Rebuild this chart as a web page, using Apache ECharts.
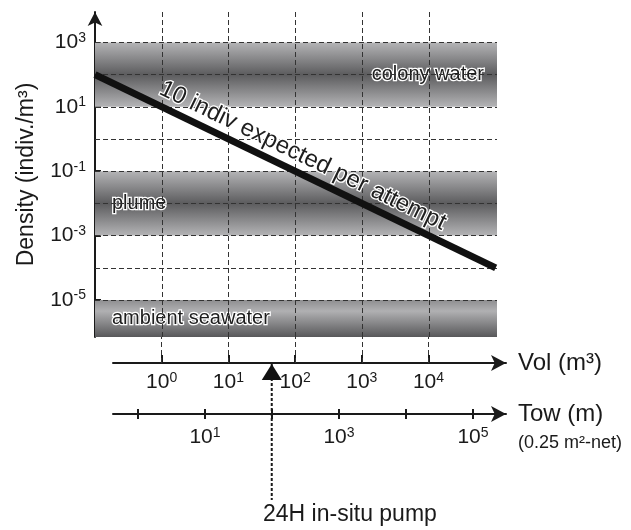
<!DOCTYPE html>
<html>
<head>
<meta charset="utf-8">
<script src="https://cdn.jsdelivr.net/npm/echarts@6/dist/echarts.min.js"></script>
<style>
html, body { margin: 0; padding: 0; background: #fff; }
#chart { width: 631px; height: 530px; }
</style>
</head>
<body>
<div id="chart"></div>
<script>
// all values are log10 exponents
var volTicks = [0, 1, 2, 3, 4];
var densityTicks = [3, 1, -1, -3, -5];
var densityGrid = [3, 2, 1, 0, -1, -2, -3, -4, -5];
var towTicks = [0, 1, 2, 3, 4, 5];
var towLabels = [1, 3, 5];
var expectedLine = [[-1, 2], [5, -4]]; // 10 indiv expected per attempt
var bandNames = ['colony water', 'plume', 'ambient seawater'];
var bandRanges = [[3, 1], [-1, -3], [-5, -6.15]];
var pumpVol = 1.65;

var FONT = '"Liberation Sans", Arial, Helvetica, sans-serif';
var INK = '#1a1a1a';

function pow10(v) {
	return '{b|10}{s|' + v + '}';
}
function powRich(size, sup) {
	return {
		b: { fontSize: size, lineHeight: size + 2, color: INK, fontFamily: FONT },
		s: { fontSize: sup, lineHeight: sup, verticalAlign: 'top', color: INK, fontFamily: FONT }
	};
}
function grad(stops) {
	return new echarts.graphic.LinearGradient(0, 0, 0, 1, stops);
}
var midDark = [
	{ offset: 0, color: '#b4b4b6' },
	{ offset: 0.5, color: '#5c5c5e' },
	{ offset: 1, color: '#b4b4b6' }
];
var ambientFill = [
	{ offset: 0, color: '#8e8e90' },
	{ offset: 0.3, color: '#b0b0b2' },
	{ offset: 1, color: '#58585a' }
];
var bandFills = [midDark, midDark, ambientFill];
var bandLabelPos = ['insideRight', 'insideLeft', 'insideLeft'];
var bandLabelDist = [13, 17, 17];

// texte avec contour blanc
var outlined = {
	color: '#1e1e1e',
	fontFamily: FONT,
	textBorderColor: '#fff',
	textBorderWidth: 2.5
};

var bands = [];
for (var i = 0; i < bandNames.length; i++) {
	bands.push([
		{
			name: bandNames[i],
			yAxis: bandRanges[i][0],
			itemStyle: { color: grad(bandFills[i]) },
			label: Object.assign({
				show: true,
				position: bandLabelPos[i],
				distance: bandLabelDist[i],
				fontSize: 20
			}, outlined)
		},
		{ yAxis: bandRanges[i][1] }
	]);
}

var dashed = { type: [5, 3], color: '#333', width: 1 };
var mainGrid = [];
volTicks.forEach(function (v) { mainGrid.push({ xAxis: v }); });
densityGrid.forEach(function (v) { mainGrid.push({ yAxis: v }); });

var arrowLine = {
	show: true,
	onZero: false,
	symbol: ['none', 'arrow'],
	symbolSize: [12, 15],
	lineStyle: { color: INK, width: 2 }
};
var nameStyle = { fontSize: 24, color: INK, fontFamily: FONT };

var chart = echarts.init(document.getElementById('chart'));
chart.setOption({
	animation: false,
	title: [
		{ text: '(0.25 m²-net)', left: 518, top: 434, padding: 0,
			textStyle: { fontSize: 18, fontWeight: 'normal', color: INK, fontFamily: FONT } },
		{ text: '24H in-situ pump', left: 263, top: 503, padding: 0,
			textStyle: { fontSize: 23, fontWeight: 'normal', color: INK, fontFamily: FONT } }
	],
	grid: [
		{ left: 95, top: 12, width: 402, height: 325 },
		{ left: 113, top: 337, width: 393, height: 26 },
		{ left: 113, top: 363, width: 393, height: 137 }
	],
	xAxis: [
		{ gridIndex: 0, type: 'value', min: -1, max: 5.02, show: false },
		{
			gridIndex: 1, type: 'value', min: -0.73, max: 5.162, position: 'bottom',
			axisLine: arrowLine,
			axisTick: { show: true, inside: true, length: 8, customValues: volTicks, lineStyle: { color: INK, width: 2 } },
			axisLabel: { customValues: volTicks, formatter: pow10, rich: powRich(21, 14), margin: 8 },
			splitLine: { show: false },
			name: 'Vol (m³)', nameLocation: 'end', nameGap: 12,
			nameTextStyle: nameStyle
		},
		{
			gridIndex: 2, type: 'value', min: -0.373, max: 5.493, position: 'bottom', offset: -86,
			axisLine: arrowLine,
			axisTick: { show: true, inside: true, length: 5, customValues: towTicks, lineStyle: { color: INK, width: 2 } },
			axisLabel: { customValues: towLabels, formatter: pow10, rich: powRich(21, 14), margin: 12 },
			splitLine: { show: false },
			name: 'Tow (m)', nameLocation: 'end', nameGap: 12,
			nameTextStyle: nameStyle
		},
		{
			gridIndex: 2, type: 'value', min: -0.373, max: 5.493, position: 'bottom', offset: -86,
			axisLine: { show: false, onZero: false },
			axisTick: { show: true, inside: false, length: 5, customValues: towTicks, lineStyle: { color: INK, width: 2 } },
			axisLabel: { show: false },
			splitLine: { show: false }
		},
		{ gridIndex: 2, type: 'value', min: -0.73, max: 5.162, show: false }
	],
	yAxis: [
		{
			gridIndex: 0, type: 'value', min: -6.15, max: 3.947,
			axisLine: { show: true, onZero: false, symbol: ['none', 'arrow'], symbolSize: [11, 14], lineStyle: { color: INK, width: 2 } },
			axisTick: { show: true, inside: true, length: 6, customValues: densityTicks, lineStyle: { color: INK, width: 2 } },
			axisLabel: { customValues: densityTicks, formatter: pow10, rich: powRich(21, 14), margin: 9 },
			splitLine: { show: false },
			name: 'Density (indiv./m³)', nameLocation: 'middle', nameGap: 57,
			nameTextStyle: { fontSize: 23, color: INK, fontFamily: FONT }
		},
		{ gridIndex: 1, type: 'value', min: 0, max: 1, show: false },
		{ gridIndex: 2, type: 'value', min: 0, max: 1, show: false }
	],
	series: [
		{
			name: 'bands', type: 'line', xAxisIndex: 0, yAxisIndex: 0, data: [],
			markArea: { silent: true, data: bands }
		},
		{
			name: 'grid', type: 'line', xAxisIndex: 0, yAxisIndex: 0, data: [],
			markLine: {
				silent: true, symbol: ['none', 'none'], label: { show: false },
				lineStyle: dashed, data: mainGrid
			}
		},
		{
			name: 'expected', type: 'line', xAxisIndex: 0, yAxisIndex: 0, z: 10,
			data: expectedLine, symbol: 'none',
			lineStyle: { color: '#111', width: 7, cap: 'butt' },
			markLine: {
				silent: true, symbol: ['none', 'none'],
				lineStyle: { color: 'rgba(0,0,0,0)', width: 1 },
				label: Object.assign({
					show: true,
					position: 'insideMiddleTop',
					distance: 5,
					fontSize: 24,
					formatter: '10 indiv expected per attempt'
				}, outlined),
				data: [[{ coord: expectedLine[0] }, { coord: expectedLine[1] }]]
			}
		},
		{
			name: 'volgrid', type: 'line', xAxisIndex: 1, yAxisIndex: 1, data: [],
			markLine: {
				silent: true, symbol: ['none', 'none'], label: { show: false },
				lineStyle: dashed,
				data: volTicks.map(function (v) { return { xAxis: v }; })
			}
		},
		{
			name: 'pumpline', type: 'line', xAxisIndex: 4, yAxisIndex: 2,
			data: [[pumpVol, 1], [pumpVol, 0]], symbol: 'none',
			lineStyle: { color: INK, width: 2, type: [3, 2] }
		},
		{
			name: 'pump', type: 'scatter', xAxisIndex: 4, yAxisIndex: 2, z: 12,
			data: [[pumpVol, 1]], symbol: 'triangle', symbolSize: [20, 16], symbolOffset: [0, 9],
			itemStyle: { color: '#111', opacity: 1 }
		}
	]
});
</script>
</body>
</html>
